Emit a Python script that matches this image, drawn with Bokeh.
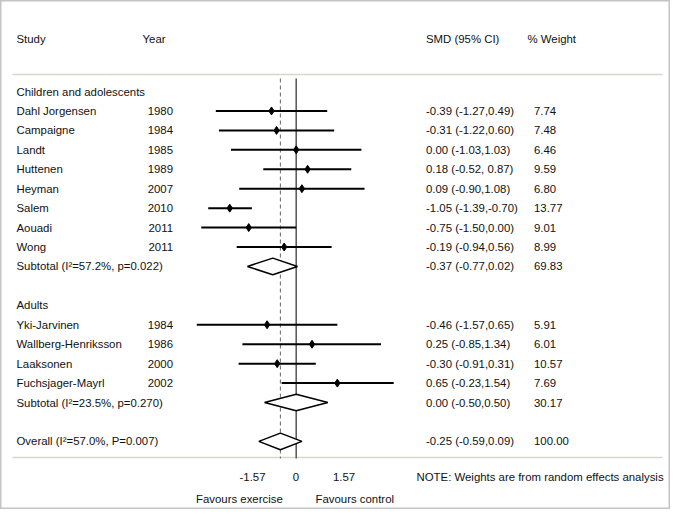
from bokeh.plotting import figure
from bokeh.models import Range1d, ColumnDataSource
from bokeh.core.properties import value
from bokeh.embed import file_html
from bokeh.resources import INLINE

# ---------------- data ----------------
child_names = ["Dahl Jorgensen", "Campaigne", "Landt", "Huttenen", "Heyman", "Salem", "Aouadi", "Wong"]
child_years = ["1980", "1984", "1985", "1989", "2007", "2010", "2011", "2011"]
child_smd = [-0.39, -0.31, 0.00, 0.18, 0.09, -1.05, -0.75, -0.19]
child_lo = [-1.27, -1.22, -1.03, -0.52, -0.90, -1.39, -1.50, -0.94]
child_hi = [0.49, 0.60, 1.03, 0.87, 1.08, -0.70, 0.00, 0.56]
child_ci = ["-0.39 (-1.27,0.49)", "-0.31 (-1.22,0.60)", "0.00 (-1.03,1.03)", "0.18 (-0.52, 0.87)",
            "0.09 (-0.90,1.08)", "-1.05 (-1.39,-0.70)", "-0.75 (-1.50,0.00)", "-0.19 (-0.94,0.56)"]
child_w = [7.74, 7.48, 6.46, 9.59, 6.80, 13.77, 9.01, 8.99]

adult_names = ["Yki-Jarvinen", "Wallberg-Henriksson", "Laaksonen", "Fuchsjager-Mayrl"]
adult_years = ["1984", "1986", "2000", "2002"]
adult_smd = [-0.46, 0.25, -0.30, 0.65]
adult_lo = [-1.57, -0.85, -0.91, -0.23]
adult_hi = [0.65, 1.34, 0.31, 1.54]
adult_ci = ["-0.46 (-1.57,0.65)", "0.25 (-0.85,1.34)", "-0.30 (-0.91,0.31)", "0.65 (-0.23,1.54)"]
adult_w = [5.91, 6.01, 10.57, 7.69]

pooled_labels = ["Subtotal (I\u00b2=57.2%, p=0.022)", "Subtotal (I\u00b2=23.5%, p=0.270)", "Overall (I\u00b2=57.0%, P=0.007)"]
pooled_smd = [-0.37, 0.00, -0.25]
pooled_lo = [-0.77, -0.50, -0.59]
pooled_hi = [0.02, 0.50, 0.09]
pooled_ci = ["-0.37 (-0.77,0.02)", "0.00 (-0.50,0.50)", "-0.25 (-0.59,0.09)"]
pooled_w = [69.83, 30.17, 100.00]

group_labels = ["Children and adolescents", "Adults"]
header_labels = ["Study", "Year", "SMD (95% CI)", "% Weight"]
tick_labels = ["-1.57", "0", "1.57"]
favour_labels = ["Favours exercise", "Favours control"]
note_text = "NOTE: Weights are from random effects analysis"

# ---------------- layout helpers ----------------
X0PX, XSCALE = 295.7, 63.3     # px of x=0, px per unit
Y0PX, YSCALE = 91.0, 19.44     # px of row 0, px per row


def sx(px):
    return (px - X0PX) / XSCALE


def sy(py):
    return -(py - Y0PX) / YSCALE


child_rows = [1, 2, 3, 4, 5, 6, 7, 8]
adult_rows = [12, 13, 14, 15]
pooled_rows = [9, 16, 18]
group_rows = [0, 11]

W, H = 670, 509
p = figure(width=W, height=H, output_backend="svg", toolbar_location=None,
           x_range=Range1d(sx(0), sx(W)), y_range=Range1d(sy(H), sy(0)),
           min_border=0, min_border_left=0, min_border_right=0,
           min_border_top=0, min_border_bottom=0)
p.axis.visible = False
p.grid.visible = False
p.outline_line_color = "#c4c4c4"
p.outline_line_width = 2
p.background_fill_color = "white"
p.border_fill_color = "white"

FONT = value("Liberation Sans")
FS = "11.4px"


def txt(xs, ys, texts, align="left"):
    src = ColumnDataSource(dict(x=xs, y=ys, t=texts))
    p.text(x="x", y="y", text="t", source=src, text_font=FONT, text_font_size=FS,
           text_color="#111111", text_align=align, text_baseline="middle")


# horizontal rules
p.segment(x0=[sx(12), sx(12)], y0=[sy(74), sy(457)], x1=[sx(662), sx(662)], y1=[sy(74), sy(457)],
          line_color="#d9d5c9", line_width=1.5)

# vertical reference lines
p.segment(x0=[0], y0=[sy(78)], x1=[0], y1=[sy(458)], line_color="#555555", line_width=1.5)
p.segment(x0=[pooled_smd[2]], y0=[sy(78)], x1=[pooled_smd[2]], y1=[sy(458)],
          line_color="#666666", line_width=1, line_dash="4 3")

# study CIs and points
all_rows = [-r for r in child_rows + adult_rows]
all_lo = child_lo + adult_lo
all_hi = child_hi + adult_hi
all_smd = child_smd + adult_smd
p.segment(x0=all_lo, y0=all_rows, x1=all_hi, y1=all_rows, line_color="black", line_width=2)
p.scatter(x=all_smd, y=all_rows, marker="diamond", size=8, fill_color="black", line_color="black")

# pooled diamonds
dh = 8.3 / YSCALE
xs_d, ys_d = [], []
for r, m, lo, hi in zip(pooled_rows, pooled_smd, pooled_lo, pooled_hi):
    xs_d.append([lo, m, hi, m])
    ys_d.append([-r, -r + dh, -r, -r - dh])
p.patches(xs=xs_d, ys=ys_d, fill_color="white", line_color="black", line_width=1.5)

# headers
hy = sy(38)
txt([sx(16), sx(142), sx(425.5), sx(527)], [hy] * 4, header_labels)

# left labels
txt([sx(16)] * 2, [-r for r in group_rows], group_labels)
txt([sx(16)] * len(all_rows), all_rows, child_names + adult_names)
txt([sx(172.5)] * len(all_rows), all_rows, child_years + adult_years, align="right")
txt([sx(16)] * 3, [-r for r in pooled_rows], pooled_labels)

# right columns
txt([sx(425.5)] * len(all_rows), all_rows, child_ci + adult_ci)
txt([sx(533.5)] * len(all_rows), all_rows, ["%.2f" % w for w in child_w + adult_w])
txt([sx(425.5)] * 3, [-r for r in pooled_rows], pooled_ci)
txt([sx(533.5)] * 3, [-r for r in pooled_rows], ["%.2f" % w for w in pooled_w])

# axis-like labels
ty = sy(476)
txt([sx(252), sx(295.5), sx(343.5)], [ty] * 3, tick_labels, align="center")
txt([sx(416)], [ty], [note_text])
fy = sy(498)
txt([sx(195.5), sx(315)], [fy] * 2, favour_labels)

open("out.html", "w").write(file_html(p, INLINE))
